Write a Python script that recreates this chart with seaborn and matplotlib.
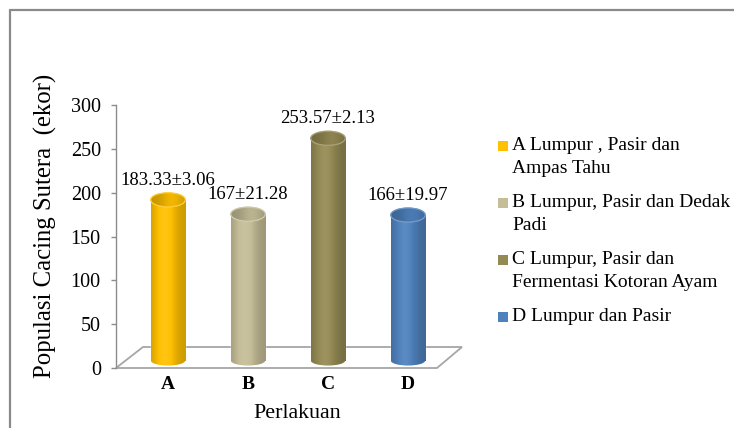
import numpy as np
import pandas as pd
import matplotlib
matplotlib.use("Agg")
import matplotlib.pyplot as plt
import seaborn as sns
from matplotlib.patches import Ellipse, Rectangle, Polygon
from matplotlib.lines import Line2D
from matplotlib.colors import to_rgb

# ---------------- data ----------------
categories = ["A", "B", "C", "D"]
means = [183.33, 167, 253.57, 166]
sds = [3.06, 21.28, 2.13, 19.97]
value_labels = ["183.33±3.06", "167±21.28", "253.57±2.13", "166±19.97"]
legend_labels = [
    "A Lumpur , Pasir dan\nAmpas Tahu",
    "B Lumpur, Pasir dan Dedak\nPadi",
    "C Lumpur, Pasir dan\nFermentasi Kotoran Ayam",
    "D Lumpur dan Pasir",
]
colors = ["#FFC000", "#C4BD97", "#948A54", "#4F81BD"]
y_ticks = [0, 50, 100, 150, 200, 250, 300]
y_label = "Populasi Cacing Sutera  (ekor)"
x_label = "Perlakuan"

# ---------------- style ----------------
sns.set_theme(style="white")
plt.rcParams["font.family"] = ["Liberation Serif", "DejaVu Serif"]

W, H = 734, 428
fig = plt.figure(figsize=(W / 100, H / 100), dpi=100, facecolor="white")
ax = fig.add_axes([128 / W, 60 / H, 320 / W, 263 / H])
ax.patch.set_visible(False)

df = pd.DataFrame({"cat": categories, "val": means})
sns.barplot(data=df, x="cat", y="val", hue="cat", palette=colors, legend=False,
            width=0.43, saturation=1, ax=ax, zorder=2)

px_per_unit = 263 / 300.0
base = 8.5                       # 3D depth lift of bar bottoms
cap_h = 14 / px_per_unit         # top ellipse height in data units
bot_h = 10 / px_per_unit


def shade(c, f):
    c = np.array(to_rgb(c))
    if f < 1:
        return c * f
    return c + (1 - c) * (f - 1)


def grad_img(c, lo, hi, peak):
    t = np.linspace(0, 1, 200)
    f = lo + (hi - lo) * np.exp(-((t - peak) / 0.32) ** 2)
    return np.array([[shade(c, v) for v in f]])


for patch, col, lab in zip(ax.patches, colors, value_labels):
    x0 = patch.get_x()
    w = patch.get_width()
    h = patch.get_height()
    patch.set_y(base)
    top = base + h
    cx = x0 + w / 2
    img = grad_img(col, 0.80, 1.07, 0.40)
    # body
    im = ax.imshow(img, extent=[x0, x0 + w, base, top], aspect="auto",
                   zorder=3, interpolation="bilinear")
    im.set_clip_path(patch)
    # bottom rounded edge
    be = Ellipse((cx, base), w, bot_h, facecolor="none", edgecolor="none", zorder=2)
    ax.add_patch(be)
    im2 = ax.imshow(img, extent=[x0, x0 + w, base - bot_h, base + bot_h],
                    aspect="auto", zorder=2.5, interpolation="bilinear")
    im2.set_clip_path(be)
    # top cap
    te = Ellipse((cx, top), w, cap_h, facecolor=shade(col, 0.9),
                 edgecolor=shade(col, 1.25), lw=0.9, zorder=4)
    ax.add_patch(te)
    im3 = ax.imshow(grad_img(col, 0.78, 0.95, 0.6),
                    extent=[x0, x0 + w, top - cap_h / 2, top + cap_h / 2],
                    aspect="auto", zorder=4.5, interpolation="bilinear")
    im3.set_clip_path(te)
    ax.add_patch(Ellipse((cx, top), w, cap_h, facecolor="none",
                         edgecolor=shade(col, 1.2), lw=0.8, zorder=5))
    # value label
    ax.text(cx, top + 22.5, lab, ha="center", va="center", fontsize=13.5,
            color="black", zorder=6)

ax.set_xlim(-0.5, 3.5)
ax.set_ylim(0, 300)
ax.set_yticks(y_ticks)
ax.set_xlabel("")
ax.set_ylabel("")
for s in ["top", "right", "bottom"]:
    ax.spines[s].set_visible(False)
ax.spines["left"].set_position(("outward", 9))
ax.spines["left"].set_color("#8C8C8C")
ax.spines["left"].set_linewidth(1.0)
ax.tick_params(axis="y", left=True, length=3.6, width=1.0, color="#8C8C8C",
               labelsize=14.5, pad=7, labelcolor="black")
ax.tick_params(axis="x", length=0, pad=6, labelsize=14, labelcolor="black")
for t in ax.get_xticklabels():
    t.set_fontweight("bold")

# floor of the 3D plot area
floor = [(116, 368), (437, 368), (462, 347), (143, 347)]
ax.add_patch(Polygon([(x / W, 1 - y / H) for x, y in floor], closed=True,
                     transform=fig.transFigure, facecolor="none",
                     edgecolor="#A6A6A6", lw=1.3, zorder=1, clip_on=False))

# axis titles
fig.text(45 / W, 1 - 226 / H, y_label, rotation=90, ha="center", va="center",
         fontsize=17.8, color="black")
fig.text(297 / W, 1 - 414 / H, x_label, ha="center", va="center",
         fontsize=15.8, color="black")

# legend
for i, (lab, col) in enumerate(zip(legend_labels, colors)):
    yc = 146 + 57 * i
    fig.add_artist(Rectangle((498 / W, 1 - (yc + 5) / H), 10 / W, 10 / H,
                             transform=fig.transFigure, facecolor=col,
                             edgecolor="none"))
    fig.text(512 / W, 1 - (yc - 9) / H, lab, ha="left", va="top",
             fontsize=14, color="black", linespacing=1.45)

# outer frame
fig.add_artist(Line2D([10 / W, 10 / W], [0, 1 - 10 / H], transform=fig.transFigure,
                      color="#8A8A8A", lw=1.6))
fig.add_artist(Line2D([10 / W, 1], [1 - 10 / H, 1 - 10 / H], transform=fig.transFigure,
                      color="#8A8A8A", lw=1.6))

fig.savefig("out.png", dpi=100, facecolor="white")
